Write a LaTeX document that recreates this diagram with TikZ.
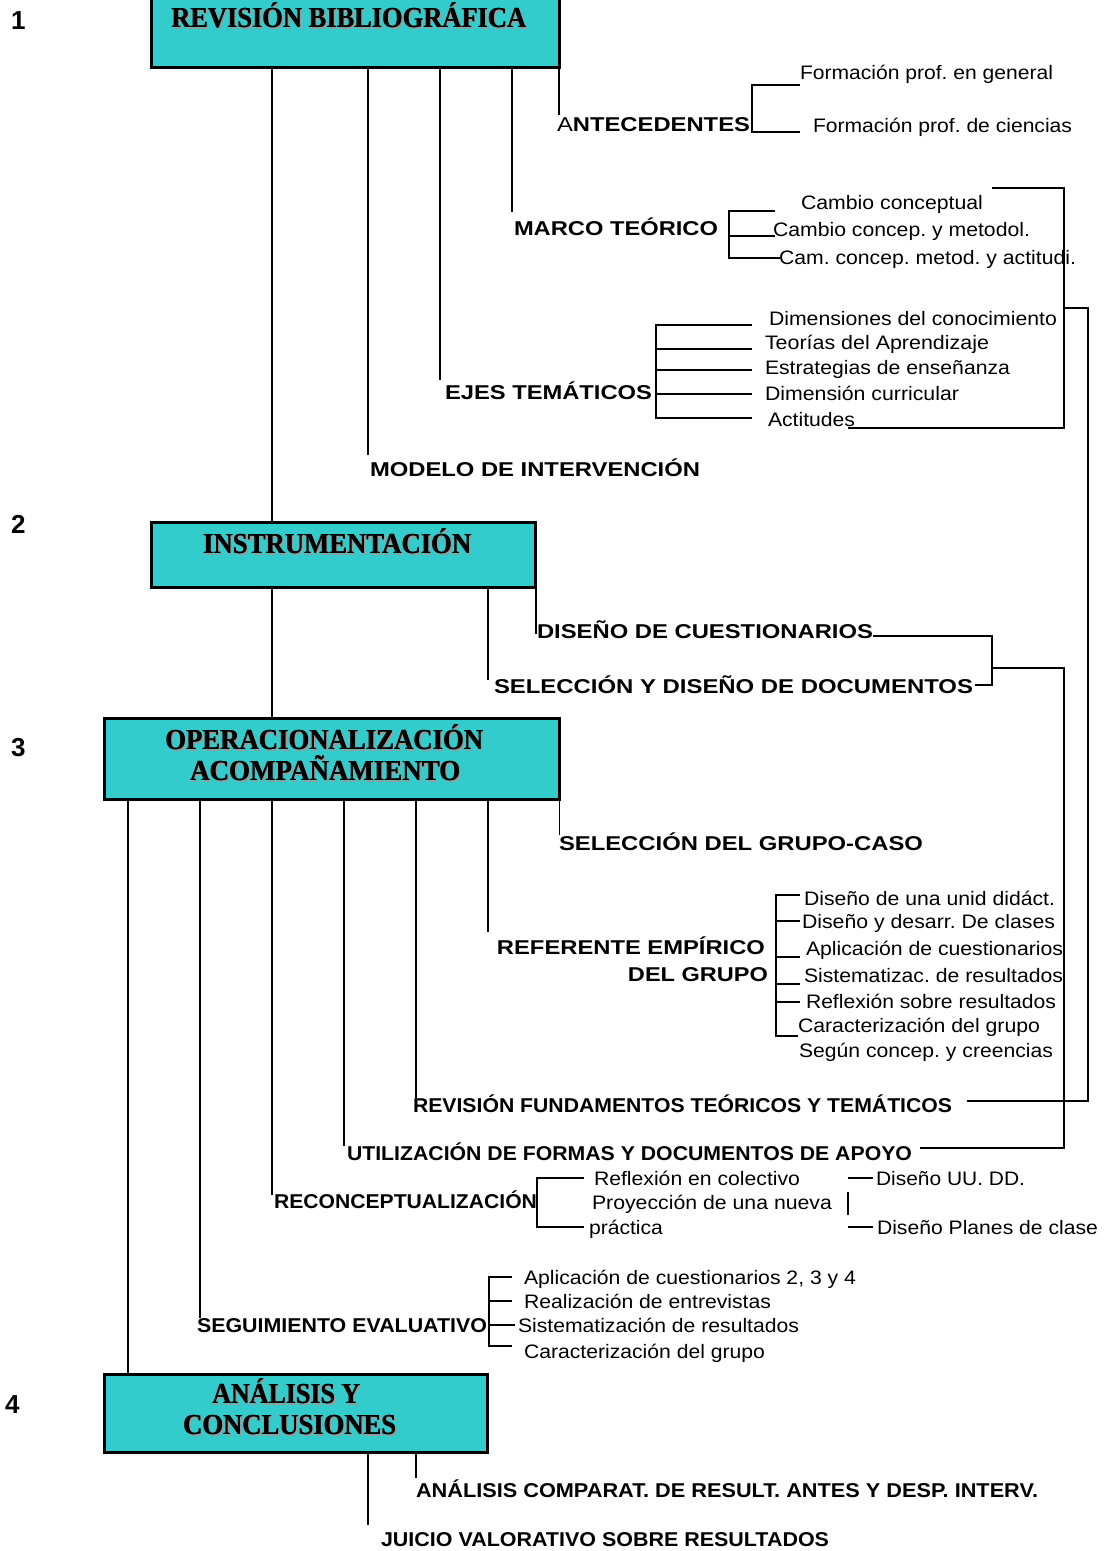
\documentclass[tikz,border=0pt]{standalone}
\usepackage{fontspec}
\usepackage{graphicx}
\setmainfont{Liberation Sans}
\newfontfamily\titfont{Liberation Serif}
\definecolor{tealbox}{HTML}{33CCCC}
\definecolor{shadowgray}{HTML}{9A9A9A}
\frenchspacing
\newcommand\fw[2]{\resizebox{#1pt}{\height}{#2}}
\newcommand\shd[1]{\makebox[0pt][l]{\hspace*{2pt}\raisebox{-2pt}{\color{shadowgray}#1}}\makebox[0pt][l]{\hspace*{0.6pt}#1}#1}
\begin{document}
\begin{tikzpicture}[x=1pt,y=-1pt,
  ln/.style={line width=1.8pt},
  box/.style={draw, line width=3.5pt, fill=tealbox, inner sep=0, outer sep=0, anchor=north west},
  lab/.style={font=\fontsize{20}{22}\selectfont\bfseries, inner sep=0, outer sep=0, anchor=base west},
  labr/.style={lab, anchor=base east},
  txt/.style={font=\fontsize{19.5}{22}\selectfont, inner sep=0, outer sep=0, anchor=base west},
  num/.style={font=\fontsize{26}{30}\selectfont\bfseries, inner sep=0, anchor=base west},
  tit/.style={font=\fontsize{29}{32}\selectfont\titfont\bfseries, inner sep=0, anchor=base},
]
\useasboundingbox (0,0) rectangle (1108,1551);

% ---------- boxes ----------
\node[box, minimum width=408pt, minimum height=72.5pt] (b1) at (151.5,-5) {};
\node[box, minimum width=384pt, minimum height=65pt] (b2) at (151.5,522.5) {};
\node[box, minimum width=455pt, minimum height=81pt] (b3) at (104.5,718.5) {};
\node[box, minimum width=383pt, minimum height=78pt] (b4) at (104.5,1374.5) {};

\node[tit] (t1) at (348.5,27) {\fw{355}{\shd{REVISIÓN BIBLIOGRÁFICA}}};
\node[tit] (t2) at (337,553) {\fw{268}{\shd{INSTRUMENTACIÓN}}};
\node[tit] (t3a) at (324,749) {\fw{318}{\shd{OPERACIONALIZACIÓN}}};
\node[tit] (t3b) at (325,780) {\fw{270}{\shd{ACOMPAÑAMIENTO}}};
\node[tit] (t4a) at (286,1403) {\fw{148}{\shd{ANÁLISIS Y}}};
\node[tit] (t4b) at (289.5,1434) {\fw{213}{\shd{CONCLUSIONES}}};

% ---------- numbers ----------
\node[num] (n1) at (11,29) {1};
\node[num] (n2) at (11,533) {2};
\node[num] (n3) at (11,756) {3};
\node[num] (n4) at (5,1413) {4};

% ---------- section 1 labels ----------
\node[lab] (lAnte) at (557,131) {\fw{193}{{\mdseries A}NTECEDENTES}};
\node[txt] (a1) at (800,79) {\fw{253}{Formación prof. en general}};
\node[txt] (a2) at (813,132) {\fw{259}{Formación prof. de ciencias}};

\node[lab] (lMarco) at (514,235) {\fw{204}{MARCO TEÓRICO}};
\node[txt] (m1) at (801,209) {\fw{182}{Cambio conceptual}};
\node[txt] (m2) at (773,236) {\fw{257}{Cambio concep. y metodol.}};
\node[txt] (m3) at (779,264) {\fw{297}{Cam. concep. metod. y actitudi.}};

\node[lab] (lEjes) at (445,399) {\fw{207}{EJES TEMÁTICOS}};
\node[txt] (e1) at (769,325) {\fw{288}{Dimensiones del conocimiento}};
\node[txt] (e2) at (765,349) {\fw{224}{Teorías del Aprendizaje}};
\node[txt] (e3) at (765,374) {\fw{245}{Estrategias de enseñanza}};
\node[txt] (e4) at (765,400) {\fw{194}{Dimensión curricular}};
\node[txt] (e5) at (768,426) {\fw{87}{Actitudes}};

\node[lab] (lModelo) at (370,476) {\fw{330}{MODELO DE INTERVENCIÓN}};

% ---------- section 2 labels ----------
\node[lab] (lCues) at (537,638) {\fw{336}{DISEÑO DE CUESTIONARIOS}};
\node[lab] (lDocs) at (494,693) {\fw{479}{SELECCIÓN Y DISEÑO DE DOCUMENTOS}};

% ---------- section 3 labels ----------
\node[lab] (lGrupo) at (559,850) {\fw{364}{SELECCIÓN DEL GRUPO-CASO}};
\node[labr] (lRef1) at (765,954) {\fw{268}{REFERENTE EMPÍRICO}};
\node[labr] (lRef2) at (768,981) {\fw{140}{DEL GRUPO}};
\node[txt] (r1) at (804,905) {\fw{251}{Diseño de una unid didáct.}};
\node[txt] (r2) at (802,928) {\fw{253}{Diseño y desarr. De clases}};
\node[txt] (r3) at (806,955) {\fw{257}{Aplicación de cuestionarios}};
\node[txt] (r4) at (804,982) {\fw{259}{Sistematizac. de resultados}};
\node[txt] (r5) at (806,1008) {\fw{250}{Reflexión sobre resultados}};
\node[txt] (r6) at (798,1032) {\fw{242}{Caracterización del grupo}};
\node[txt] (r7) at (799,1057) {\fw{254}{Según concep. y creencias}};

\node[lab] (lRev) at (413,1112) {\fw{539}{REVISIÓN FUNDAMENTOS TEÓRICOS Y TEMÁTICOS}};
\node[lab] (lUti) at (347,1160) {\fw{565}{UTILIZACIÓN DE FORMAS Y DOCUMENTOS DE APOYO}};
\node[lab] (lRec) at (274,1208) {\fw{263}{RECONCEPTUALIZACIÓN}};
\node[txt] (c1) at (594,1185) {\fw{206}{Reflexión en colectivo}};
\node[txt] (c2) at (592,1209) {\fw{240}{Proyección de una nueva}};
\node[txt] (c3) at (589,1234) {\fw{74}{práctica}};
\node[txt] (d1) at (876,1185) {\fw{149}{Diseño UU. DD.}};
\node[txt] (d2) at (877,1234) {\fw{221}{Diseño Planes de clase}};

\node[lab] (lSeg) at (197,1332) {\fw{290}{SEGUIMIENTO EVALUATIVO}};
\node[txt] (s1) at (524,1284) {\fw{332}{Aplicación de cuestionarios 2, 3 y 4}};
\node[txt] (s2) at (524,1308) {\fw{247}{Realización de entrevistas}};
\node[txt] (s3) at (518,1332) {\fw{281}{Sistematización de resultados}};
\node[txt] (s4) at (524,1358) {\fw{241}{Caracterización del grupo}};

% ---------- section 4 labels ----------
\node[lab] (lComp) at (416,1497) {\fw{622}{ANÁLISIS COMPARAT. DE RESULT. ANTES Y DESP. INTERV.}};
\node[lab] (lJuic) at (381,1546) {\fw{448}{JUICIO VALORATIVO SOBRE RESULTADOS}};

% ---------- coordinates for stems ----------
\coordinate (eAnte) at (559,115);
\coordinate (eMarco) at (512,212);
\coordinate (eEjes) at (440,380);
\coordinate (eModelo) at (368,455);
\coordinate (v272) at (272,0);
\coordinate (eCues) at (536,634);
\coordinate (eDocs) at (488,680);
\coordinate (eGrupo) at (559.5,835);
\coordinate (eRef) at (488,932);
\coordinate (eRev) at (416,1098);
\coordinate (eUti) at (344,1146);
\coordinate (eRec) at (272,1195);
\coordinate (eSeg) at (200,1318);
\coordinate (v128) at (128,0);
\coordinate (eComp) at (416,1478);
\coordinate (eJuic) at (368,1525);

% ---------- stems from boxes ----------
\draw[ln] (b1.south -| v272) -- (b2.north -| v272);
\draw[ln] (b1.south -| eModelo) -- (eModelo);
\draw[ln] (b1.south -| eEjes) -- (eEjes);
\draw[ln] (b1.south -| eMarco) -- (eMarco);
\draw[ln] (b1.south -| eAnte) -- (eAnte);

\draw[ln] (b2.south -| v272) -- (b3.north -| v272);
\draw[ln] (b2.south -| eDocs) -- (eDocs);
\draw[ln] (b2.south -| eCues) -- (eCues);

\draw[ln] (b3.south -| v128) -- (b4.north -| v128);
\draw[ln] (b3.south -| eSeg) -- (eSeg);
\draw[ln] (b3.south -| eRec) -- (eRec);
\draw[ln] (b3.south -| eUti) -- (eUti);
\draw[ln] (b3.south -| eRev) -- (eRev);
\draw[ln] (b3.south -| eRef) -- (eRef);
\draw[ln] (b3.south -| eGrupo) -- (eGrupo);

\draw[ln] (b4.south -| eComp) -- (eComp);
\draw[ln] (b4.south -| eJuic) -- (eJuic);

% ---------- brackets ----------
% antecedentes
\draw[ln] (800,85) -- (752,85) -- (752,132) -- (800,132);
% marco teorico
\draw[ln] (775,211) -- (729,211) -- (729,258) -- (780,258);
\draw[ln] (729,236) -- (775,236);
% ejes tematicos
\draw[ln] (752,325) -- (656,325) -- (656,418) -- (752,418);
\foreach \yy in {349,370,394} \draw[ln] (656,\yy) -- (752,\yy);
% referente empirico
\draw[ln] (800,895) -- (776,895) -- (776,1036) -- (798,1036);
\foreach \yy in {921,957,984,1002} \draw[ln] (776,\yy) -- (800,\yy);
% reconceptualizacion
\draw[ln] (584,1178) -- (537,1178) -- (537,1227) -- (584,1227);
\draw[ln] (848,1178) -- (873,1178);
\draw[ln] (848,1227) -- (873,1227);
\draw[ln] (848,1192) -- (848,1215);
% seguimiento
\draw[ln] (512,1277) -- (489,1277) -- (489,1346) -- (512,1346);
\draw[ln] (489,1301) -- (512,1301);
\draw[ln] (489,1325) -- (515,1325);

% ---------- long right connectors ----------
\draw[ln] (992,188) -- (1064,188) -- (1064,428) -- (848,428);
\draw[ln] (1064,308) -- (1088,308) -- (1088,1101) -- (967,1101);
\draw[ln] (873,636) -- (992,636) -- (992,685) -- (975,685);
\draw[ln] (992,668) -- (1064,668) -- (1064,1148) -- (920,1148);
\end{tikzpicture}
\end{document}
